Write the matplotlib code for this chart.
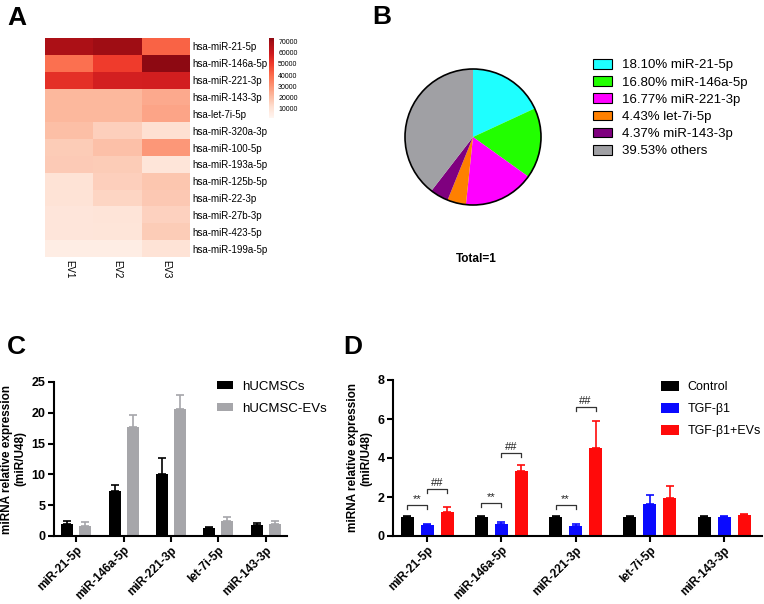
import numpy as np
import matplotlib
matplotlib.use('Agg')
import matplotlib.pyplot as plt
from matplotlib.colors import ListedColormap
from matplotlib.patches import Patch, Circle

plt.rcParams['font.family'] = ['Liberation Sans', 'DejaVu Sans']

# ---- panel A: heatmap ----
hm_rows = ['hsa-miR-21-5p', 'hsa-miR-146a-5p', 'hsa-miR-221-3p', 'hsa-miR-143-3p',
           'hsa-let-7i-5p', 'hsa-miR-320a-3p', 'hsa-miR-100-5p', 'hsa-miR-193a-5p',
           'hsa-miR-125b-5p', 'hsa-miR-22-3p', 'hsa-miR-27b-3p', 'hsa-miR-423-5p',
           'hsa-miR-199a-5p']
hm_cols = ['EV1', 'EV2', 'EV3']
hm_ev1 = [67600, 39000, 53000, 22000, 22000, 20500, 17000, 17500, 10500, 10500, 9000, 9000, 6000]
hm_ev2 = [70000, 50000, 57500, 22000, 22000, 16000, 20000, 17000, 16000, 14500, 10000, 9500, 6000]
hm_ev3 = [42000, 73000, 58000, 25500, 26500, 11500, 29500, 9500, 18500, 18000, 15500, 17000, 10500]
cbar_ticks = [10000, 20000, 30000, 40000, 50000, 60000, 70000]

# ---- panel B: pie ----
pie_names = ['miR-21-5p', 'miR-146a-5p', 'miR-221-3p', 'let-7i-5p', 'miR-143-3p', 'others']
pie_pct = [18.10, 16.80, 16.77, 4.43, 4.37, 39.53]
pie_colors = ['#1EFFFF', '#22FF00', '#FF00FF', '#FF8000', '#7F007F', '#A0A0A4']

# ---- panel C ----
genes = ['miR-21-5p', 'miR-146a-5p', 'miR-221-3p', 'let-7i-5p', 'miR-143-3p']
c_cells = [1.95, 7.32, 10.03, 1.25, 1.79]
c_cells_err = [0.55, 0.98, 2.71, 0.15, 0.27]
c_evs = [1.68, 17.68, 20.6, 2.44, 1.9]
c_evs_err = [0.54, 2.02, 2.3, 0.71, 0.6]

# ---- panel D ----
d_ctrl = [1.0, 1.0, 1.0, 1.0, 1.0]
d_ctrl_err = [0.04, 0.05, 0.05, 0.03, 0.03]
d_tgf = [0.56, 0.62, 0.51, 1.65, 0.96]
d_tgf_err = [0.06, 0.12, 0.09, 0.43, 0.05]
d_evs = [1.21, 3.35, 4.53, 1.94, 1.08]
d_evs_err = [0.28, 0.31, 1.39, 0.6, 0.05]
sig_gene = [0, 0, 1, 1, 2, 2]
sig_pair = [(0, 1), (1, 2), (0, 1), (1, 2), (0, 1), (1, 2)]
sig_y = [1.59, 2.41, 1.68, 4.24, 1.59, 6.63]
sig_txt = ['**', '##', '**', '##', '**', '##']

W, H = 764, 604
fig = plt.figure(figsize=(W / 100, H / 100), dpi=100)


def px_axes(x0, y0, x1, y1):
    # axes from pixel box (top-left origin)
    return fig.add_axes([x0 / W, 1 - y1 / H, (x1 - x0) / W, (y1 - y0) / H])


# panel A
ax = px_axes(45, 38, 190, 257)
data = np.array([hm_ev1, hm_ev2, hm_ev3]).T
cmap = ListedColormap(plt.cm.Reds(np.linspace(0.0, 0.92, 256)))
im = ax.imshow(data, cmap=cmap, vmin=2000, vmax=73000, aspect='auto', interpolation='nearest')
ax.set_xticks(range(len(hm_cols)))
ax.set_xticklabels(hm_cols, rotation=-90, fontsize=7)
ax.set_yticks(range(len(hm_rows)))
ax.set_yticklabels(hm_rows, fontsize=7)
ax.yaxis.tick_right()
ax.tick_params(length=0, pad=2)
for s in ax.spines.values():
    s.set_visible(False)
cax = px_axes(269, 38, 274, 118)
cb = fig.colorbar(im, cax=cax, ticks=cbar_ticks)
cb.outline.set_visible(False)
cb.ax.tick_params(labelsize=5, length=0, pad=3)

# panel B
ax = px_axes(388, 52, 558, 222)
ax.pie(pie_pct, colors=pie_colors, startangle=90, counterclock=False,
       wedgeprops=dict(linewidth=0))
ax.add_patch(Circle((0, 0), 1, fill=False, edgecolor='black', linewidth=1.2))
ax.set_aspect('equal')
handles = [Patch(facecolor=c, edgecolor='black', linewidth=0.8) for c in pie_colors]
labels = ['%.2f%% %s' % (p, n) for p, n in zip(pie_pct, pie_names)]
fig.legend(handles, labels, loc='upper left', bbox_to_anchor=(593 / W, 1 - 59 / H),
           frameon=False, fontsize=9.5, handlelength=1.45, handleheight=0.75,
           handletextpad=0.75, labelspacing=0.36, borderpad=0, borderaxespad=0)
fig.text(476 / W, 1 - 259 / H, 'Total=1', fontsize=8.5, fontweight='bold',
         ha='center', va='center')

# panel letters
for letter, x, y in [('A', 7, 6), ('B', 372, 5), ('C', 7, 335), ('D', 343, 335)]:
    fig.text(x / W, 1 - y / H, letter, fontsize=19, fontweight='bold', ha='left', va='top')


def style_bar_axes(ax, ylabel):
    for s in ['top', 'right']:
        ax.spines[s].set_visible(False)
    for s in ['left', 'bottom']:
        ax.spines[s].set_linewidth(1.5)
    ax.tick_params(axis='both', width=1.5, length=4, labelsize=9, pad=2)
    for t in ax.get_yticklabels():
        t.set_fontweight('bold')
    ax.set_xticks(range(len(genes)))
    ax.set_xticklabels(genes, rotation=45, ha='right', va='top', rotation_mode='anchor',
                       fontsize=8.5, fontweight='bold')
    ax.set_ylabel(ylabel, fontsize=8.5, fontweight='bold', labelpad=4, linespacing=1.1)


ylab = 'miRNA relative expression\n(miR/U48)'
x = np.arange(len(genes))

# panel C
ax = px_axes(54, 382, 287, 536)
w = 0.25
off = 0.19
z = np.zeros(len(genes))
ax.bar(x - off, c_cells, w, color='black', label='hUCMSCs',
       yerr=[z, c_cells_err], error_kw=dict(ecolor='black', capsize=3, elinewidth=1.2, capthick=1.2))
ax.bar(x + off, c_evs, w, color='#A6A6AA', label='hUCMSC-EVs',
       yerr=[z, c_evs_err], error_kw=dict(ecolor='#A6A6AA', capsize=3, elinewidth=1.2, capthick=1.2))
ax.set_xlim(-0.47, 4.45)
ax.set_ylim(0, 25)
ax.set_yticks([0, 5, 10, 15, 20, 25])
style_bar_axes(ax, ylab)
ax.legend(loc='upper left', bbox_to_anchor=(217 / W, 1 - 381 / H), bbox_transform=fig.transFigure,
          frameon=False, fontsize=9.5, handlelength=1.2, handleheight=0.55,
          handletextpad=0.7, labelspacing=0.75, borderpad=0, borderaxespad=0)

# panel D
ax = px_axes(393, 380, 762, 536)
w = 0.175
off = 0.27
series = [(d_ctrl, d_ctrl_err, 'black', 'Control'),
          (d_tgf, d_tgf_err, '#0A0AFF', 'TGF-β1'),
          (d_evs, d_evs_err, '#FF0A0A', 'TGF-β1+EVs')]
for i, (v, e, c, lab) in enumerate(series):
    ax.bar(x + (i - 1) * off, v, w, color=c, label=lab,
           yerr=[z, e], error_kw=dict(ecolor=c, capsize=3, elinewidth=1.2, capthick=1.2))
for g, (a, b), yv, t in zip(sig_gene, sig_pair, sig_y, sig_txt):
    xa = g + (a - 1) * off
    xb = g + (b - 1) * off
    ax.plot([xa, xa, xb, xb], [yv - 0.2, yv, yv, yv - 0.2], color='#333333', lw=0.9)
    ax.text((xa + xb) / 2, yv + 0.05, t, ha='center', va='bottom', fontsize=8, color='#222222')
ax.set_xlim(-0.46, 4.51)
ax.set_ylim(0, 8)
ax.set_yticks([0, 2, 4, 6, 8])
style_bar_axes(ax, ylab)
ax.legend(loc='upper left', bbox_to_anchor=(661 / W, 1 - 381 / H), bbox_transform=fig.transFigure,
          frameon=False, fontsize=9, handlelength=1.45, handleheight=0.8,
          handletextpad=0.65, labelspacing=0.8, borderpad=0, borderaxespad=0)

fig.savefig('out.png', dpi=100)
